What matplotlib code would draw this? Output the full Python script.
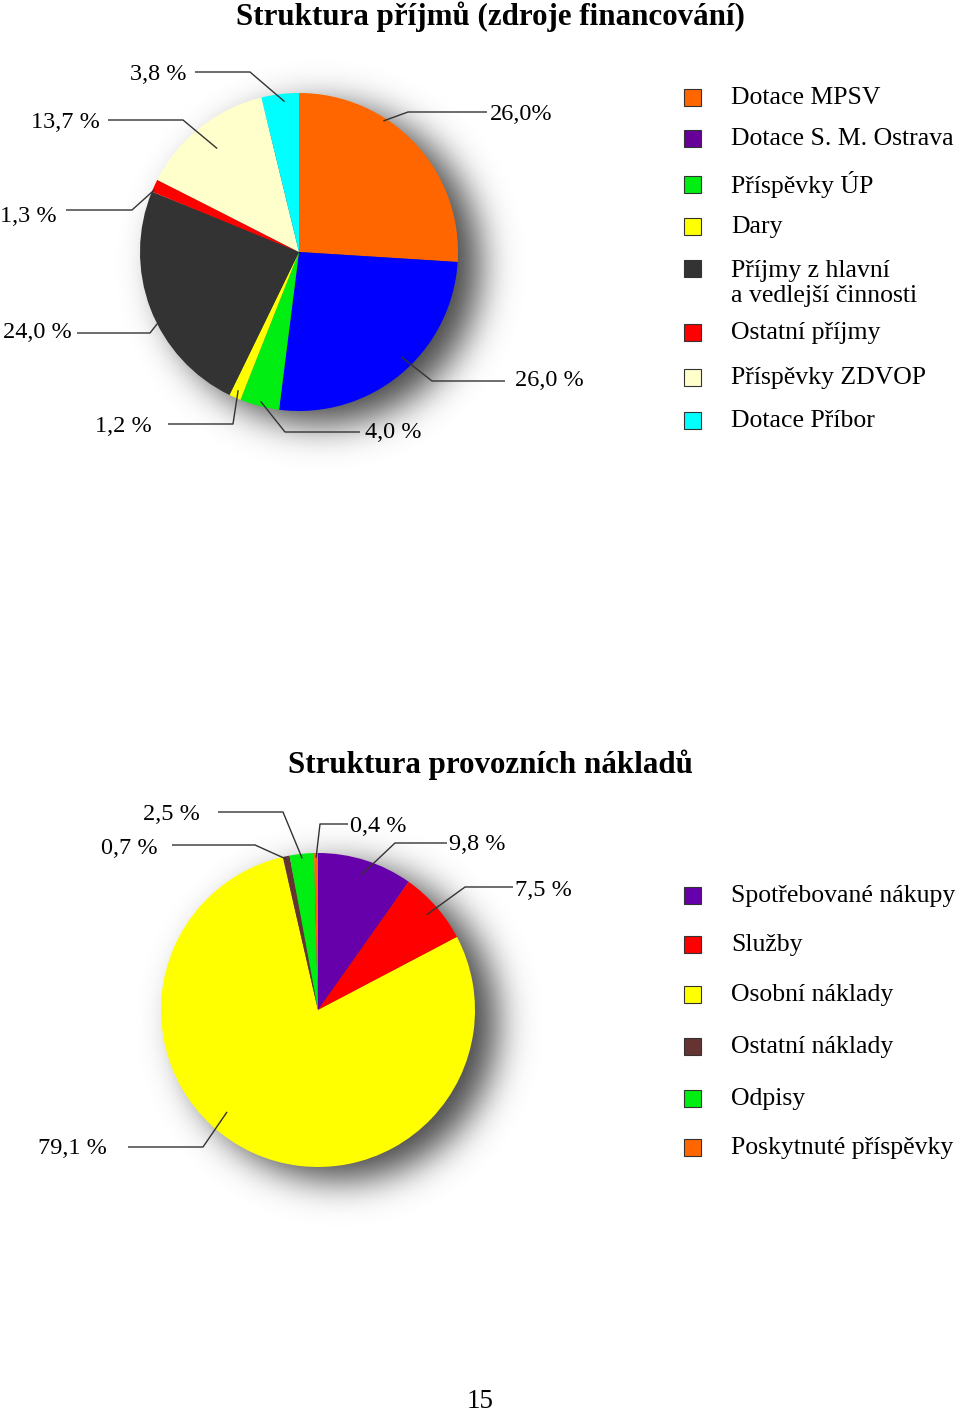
"""Two pie charts (income and operating cost structure) with leader-line labels
and square-marker legends, drawn on one pixel-sized canvas.
"""

import math

import matplotlib
matplotlib.use("Agg")
import matplotlib.pyplot as plt
import numpy as np
from matplotlib.patches import Rectangle

plt.rcParams["font.family"] = ["Liberation Serif", "DejaVu Serif"]

W, H = 960, 1413

# ---- data: income structure ----
income_title = "Struktura příjmů (zdroje financování)"
income_labels = ["Dotace MPSV", "Dotace S. M. Ostrava", "Příspěvky ÚP", "Dary",
                 "Příjmy z hlavní\na vedlejší činnosti", "Ostatní příjmy",
                 "Příspěvky ZDVOP", "Dotace Příbor"]
income_values = [26.0, 26.0, 4.0, 1.2, 24.0, 1.3, 13.7, 3.8]
income_texts = ["26,0%", "26,0 %", "4,0 %", "1,2 %", "24,0 %", "1,3 %",
                "13,7 %", "3,8 %"]
income_pie_colors = ["#FF6600", "#0000FF", "#00EE11", "#FFFF00", "#333333",
                     "#FF0000", "#FFFFCC", "#00FFFF"]
income_legend_colors = ["#FF6600", "#660099", "#00EE11", "#FFFF00", "#333333",
                        "#FF0000", "#FFFFCC", "#00FFFF"]

# ---- data: operating costs ----
cost_title = "Struktura provozních nákladů"
cost_labels = ["Spotřebované nákupy", "Služby", "Osobní náklady",
               "Ostatní náklady", "Odpisy", "Poskytnuté příspěvky"]
cost_values = [9.8, 7.5, 79.1, 0.7, 2.5, 0.4]
cost_texts = ["9,8 %", "7,5 %", "79,1 %", "0,7 %", "2,5 %", "0,4 %"]
cost_colors = ["#6600AA", "#FF0000", "#FFFF00", "#663333", "#00EE11", "#FF6600"]

# ---- layout (pixels, y down) ----
income_center, income_radius = (299, 252), 159
cost_center, cost_radius = (318, 1010), 157

# per label: text x, text y, ha, line start x, elbow x, elbow y,
# position inside wedge (0..1), radial fraction of anchor
income_leaders = [
    (490, 115, "left", 487, 408, 112, 0.35, 0.98),
    (515, 381, "left", 505, 432, 381, 0.45, 0.92),
    (365, 432, "left", 360, 285, 432, 0.5, 0.97),
    (152, 426, "right", 168, 233, 424, 0.5, 0.95),
    (72, 333, "right", 77, 150, 333, 0.5, 0.82),
    (57, 216, "right", 66, 132, 210, 0.2, 0.99),
    (100, 122, "right", 108, 183, 120, 0.5, 0.83),
    (186, 75, "right", 195, 250, 72, 0.6, 0.95),
]
cost_leaders = [
    (449, 845, "left", 447, 395, 843, 0.5, 0.9),
    (515, 890, "left", 513, 465, 887, 0.5, 0.92),
    (107, 1148, "right", 128, 203, 1147, 0.56, 0.87),
    (158, 849, "right", 172, 255, 845, 0.5, 0.98),
    (200, 814, "right", 218, 283, 812, 0.5, 0.97),
    (350, 826, "left", 348, 320, 824, 0.5, 0.97),
]
income_legend_y = [97, 138, 184, 226, 268, 332, 377, 420]
cost_legend_y = [895, 944, 994, 1046, 1098, 1147]
legend_x, box = 684, 17
line_px = 29

fig = plt.figure(figsize=(W / 100, H / 100), dpi=100)
ax = fig.add_axes([0, 0, 1, 1])

erfc = np.frompyfunc(math.erfc, 1, 1)


def shadow(center, radius, off=(22, 13), sigma=18):
    # blurred disk behind the pie, like a soft drop shadow
    cx, cy = center[0] + off[0], center[1] + off[1]
    pad = radius + 4 * sigma
    xs = np.arange(cx - pad, cx + pad)
    ys = np.arange(cy - pad, cy + pad)
    gx, gy = np.meshgrid(xs, ys)
    d = np.hypot(gx - cx, gy - cy)
    a = 0.9 * 0.5 * erfc((d - radius) / (sigma * math.sqrt(2))).astype(float)
    img = np.zeros(d.shape + (4,))
    img[..., :3] = 0.2
    img[..., 3] = a
    ax.imshow(img, extent=(xs[0], xs[-1], ys[-1], ys[0]), origin="upper",
              interpolation="bilinear", zorder=1)


def pie_with_labels(values, colors, texts, center, radius, leaders):
    shadow(center, radius)
    wedges, _ = ax.pie(values, colors=colors, startangle=270, counterclock=True,
                       center=center, radius=radius, normalize=True,
                       wedgeprops=dict(linewidth=0))
    for w in wedges:
        w.set_zorder(2)
    for w, txt, (tx, ty, ha, lx, ex, ey, t, rf) in zip(wedges, texts, leaders):
        ang = np.deg2rad(w.theta1 + t * (w.theta2 - w.theta1))
        px = center[0] + rf * radius * np.cos(ang)
        py = center[1] + rf * radius * np.sin(ang)
        ax.plot([lx, ex, px], [ey, ey, py], color="#333333", lw=1.0,
                zorder=3, solid_capstyle="butt")
        ax.text(tx, ty, txt, ha=ha, va="center", fontsize=17.5, zorder=4)


def legend(labels, colors, rows):
    for lab, col, y in zip(labels, colors, rows):
        ax.add_patch(Rectangle((legend_x, y - box / 2), box, box, facecolor=col,
                               edgecolor="#333333", lw=0.8, zorder=3))
        n = lab.count("\n")
        ax.text(legend_x + 47, y + 1 + n * line_px / 2, lab, ha="left",
                va="center", fontsize=18.5, linespacing=1.2, zorder=4)


pie_with_labels(income_values, income_pie_colors, income_texts,
                income_center, income_radius, income_leaders)
pie_with_labels(cost_values, cost_colors, cost_texts,
                cost_center, cost_radius, cost_leaders)
legend(income_labels, income_legend_colors, income_legend_y)
legend(cost_labels, cost_colors, cost_legend_y)

ax.text(490, 17, income_title, ha="center", va="center", fontsize=22.3,
        fontweight="bold")
ax.text(490, 765, cost_title, ha="center", va="center", fontsize=22.3,
        fontweight="bold")
ax.text(480, 1401, "15", ha="center", va="center", fontsize=19.5)

ax.set_xlim(0, W)
ax.set_ylim(H, 0)
ax.set_aspect("auto")
ax.axis("off")
fig.savefig("out.png", dpi=100, facecolor="white")
